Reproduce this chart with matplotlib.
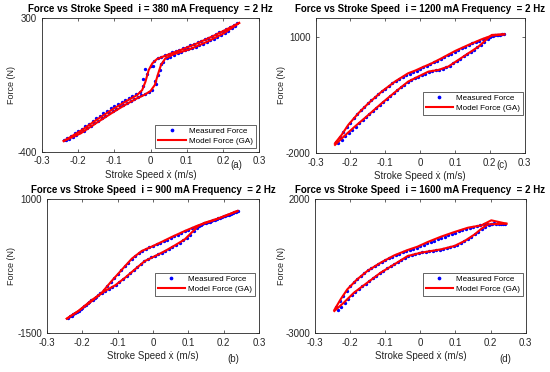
import matplotlib
matplotlib.use("Agg")
import matplotlib.pyplot as plt

plt.rcParams['font.family'] = ['Liberation Sans', 'DejaVu Sans']
plt.rcParams['axes.unicode_minus'] = False

# eixo x comum aos quatro paineis
x_ticks = [-0.3, -0.2, -0.1, 0, 0.1, 0.2, 0.3]
x_tick_labels = ['-0.3', '-0.2', '-0.1', '0', '0.1', '0.2', '0.3']

currents = [380, 1200, 900, 1600]          # mA
panel_tags = ['(a)', '(c)', '(b)', '(d)']
y_limits = [(-400, 300), (-2000, 1500), (-1500, 1000), (-3000, 2000)]
y_ticks = [[-400, 300], [-2000, 1000], [-1500, 1000], [-3000, 2000]]

# velocidades dos pontos medidos (ramo de cima / ramo de baixo)
up_speed = [-0.24, -0.23, -0.22, -0.21, -0.20, -0.19, -0.18, -0.17, -0.16, -0.15, -0.14,
            -0.13, -0.12, -0.11, -0.10, -0.09, -0.08, -0.07, -0.06, -0.05, -0.04, -0.03,
            -0.02, -0.01, 0.0, 0.01, 0.02, 0.03, 0.04, 0.05, 0.06, 0.07, 0.08, 0.09, 0.10,
            0.11, 0.12, 0.13, 0.14, 0.15, 0.16, 0.17, 0.18, 0.19, 0.20, 0.21, 0.22, 0.23, 0.24]
lo_speed = [-0.235, -0.225, -0.215, -0.205, -0.195, -0.185, -0.175, -0.165, -0.155, -0.145,
            -0.135, -0.125, -0.115, -0.105, -0.095, -0.085, -0.075, -0.065, -0.055, -0.045,
            -0.035, -0.025, -0.015, -0.005, 0.005, 0.015, 0.025, 0.035, 0.045, 0.055, 0.065,
            0.075, 0.085, 0.095, 0.105, 0.115, 0.125, 0.135, 0.145, 0.155, 0.165, 0.175,
            0.185, 0.195, 0.205, 0.215, 0.225, 0.235]

# ---- (a) i = 380 mA ----
a_up_x = [-0.24, -0.193, -0.147, -0.101, -0.064, -0.037, -0.023, -0.014, -0.005, 0.005,
          0.018, 0.046, 0.083, 0.129, 0.175, 0.212, 0.245]
a_up_f = [-345, -292, -231, -174, -133, -104, -78, -34, 27, 62, 85, 106, 132, 167, 207, 242, 274]
a_lo_x = [-0.24, -0.193, -0.147, -0.101, -0.064, -0.037, -0.018, 0.0, 0.012, 0.020, 0.029,
          0.041, 0.064, 0.110, 0.157, 0.203, 0.245]
a_lo_f = [-345, -305, -247, -191, -149, -121, -104, -83, -51, 1, 54, 88, 110, 137, 176, 220, 274]
a_meas_up = [-340, -328, -318, -305, -292, -280, -266, -254, -240, -226, -213, -200, -188,
             -174, -162, -150, -140, -128, -120, -110, -98, -88, -55, 5, 48, 72, 88, 95, 104,
             112, 120, 126, 134, 142, 150, 156, 164, 172, 180, 188, 196, 205, 214, 224, 234,
             244, 254, 264, 274]
a_meas_lo = [-342, -334, -322, -312, -300, -290, -276, -264, -250, -238, -225, -212, -200,
             -188, -176, -164, -154, -144, -134, -124, -114, -104, -96, -88, -76, -45, 25,
             70, 88, 98, 108, 116, 122, 130, 136, 144, 150, 158, 166, 174, 184, 192, 202,
             212, 222, 234, 246, 260]
a_extra_x = [-0.02, -0.015, 0.008, 0.012, 0.03, 0.022]
a_extra_f = [-20, 30, 50, -30, 60, 0]

# ---- (c) i = 1200 mA ----
c_up_x = [-0.244, -0.225, -0.206, -0.177, -0.148, -0.110, -0.072, -0.034, -0.014, 0.005,
          0.034, 0.062, 0.101, 0.139, 0.177, 0.206, 0.242]
c_up_f = [-1753, -1537, -1278, -975, -715, -412, -152, 64, 133, 211, 324, 454, 644, 800,
          947, 1042, 1077]
c_lo_x = [-0.244, -0.216, -0.187, -0.148, -0.110, -0.072, -0.034, -0.005, 0.024, 0.053,
          0.081, 0.110, 0.139, 0.168, 0.187, 0.206, 0.242]
c_lo_f = [-1797, -1555, -1321, -1018, -715, -429, -152, -22, 107, 151, 237, 410, 584, 757,
          912, 1060, 1077]
c_meas_up = [-1710, -1590, -1470, -1340, -1220, -1110, -1000, -900, -810, -720, -640, -560,
             -480, -405, -335, -265, -200, -140, -85, -35, 10, 55, 95, 135, 180, 220, 260,
             300, 345, 390, 440, 485, 530, 575, 620, 665, 710, 755, 800, 840, 880, 915, 950,
             985, 1015, 1040, 1055, 1065, 1075]
c_meas_lo = [-1740, -1660, -1570, -1490, -1400, -1320, -1240, -1160, -1080, -1000, -920,
             -840, -760, -680, -605, -530, -455, -380, -305, -235, -165, -110, -65, -25, 15,
             55, 95, 120, 138, 155, 180, 215, 260, 320, 380, 440, 500, 560, 620, 680, 740,
             810, 880, 960, 1030, 1060, 1070, 1075]

# ---- (b) i = 900 mA ----
b_up_x = [-0.244, -0.211, -0.173, -0.145, -0.117, -0.089, -0.060, -0.032, -0.004, 0.024,
          0.053, 0.090, 0.128, 0.166, 0.203, 0.239]
b_up_f = [-1237, -1093, -906, -750, -531, -325, -113, 31, 112, 200, 294, 406, 512, 593, 687, 781]
b_lo_x = [-0.244, -0.211, -0.173, -0.136, -0.107, -0.079, -0.051, -0.023, 0.006, 0.034,
          0.062, 0.090, 0.109, 0.128, 0.147, 0.185, 0.239]
b_lo_f = [-1237, -1093, -887, -718, -612, -469, -312, -156, -63, 31, 137, 250, 375, 500,
          562, 640, 781]
b_meas_up = [-1220, -1180, -1130, -1085, -1035, -985, -930, -880, -825, -765, -700, -625,
             -550, -480, -405, -330, -255, -185, -115, -55, -5, 40, 75, 100, 125, 155, 185,
             215, 245, 280, 310, 340, 370, 400, 430, 455, 480, 505, 530, 555, 580, 605, 630,
             655, 680, 705, 730, 755, 775]
b_meas_lo = [-1195, -1150, -1105, -1060, -1000, -945, -890, -845, -800, -760, -720, -685,
             -645, -600, -545, -495, -445, -390, -330, -275, -220, -165, -120, -90, -65, -30,
             0, 35, 75, 110, 150, 190, 230, 280, 340, 400, 460, 520, 555, 575, 600, 620, 645,
             665, 690, 715, 740, 765]

# ---- (d) i = 1600 mA ----
d_up_x = [-0.245, -0.227, -0.208, -0.180, -0.151, -0.113, -0.074, -0.036, -0.008, 0.021,
          0.059, 0.097, 0.136, 0.174, 0.202, 0.245]
d_up_f = [-2149, -1749, -1374, -1000, -687, -375, -100, 100, 225, 400, 600, 774, 937, 1024,
          1212, 1087]
d_lo_x = [-0.245, -0.218, -0.189, -0.151, -0.113, -0.074, -0.036, 0.002, 0.031, 0.059,
          0.097, 0.126, 0.155, 0.174, 0.193, 0.245]
d_lo_f = [-2187, -1874, -1499, -1125, -750, -437, -125, 0, 62, 125, 250, 437, 687, 899,
          1062, 1087]
d_meas_up = [-2050, -1830, -1620, -1420, -1250, -1110, -980, -870, -760, -660, -570, -490,
             -410, -340, -270, -205, -145, -90, -40, 10, 55, 100, 145, 190, 240, 290, 345,
             400, 455, 505, 555, 605, 655, 705, 750, 800, 845, 890, 935, 975, 1010, 1040,
             1065, 1080, 1090, 1095, 1095, 1092, 1090]
d_meas_lo = [-2150, -2020, -1880, -1740, -1600, -1470, -1360, -1260, -1160, -1060, -965,
             -870, -775, -680, -590, -505, -425, -345, -265, -190, -120, -70, -35, -10, 10,
             30, 50, 70, 90, 110, 140, 170, 205, 245, 300, 365, 430, 510, 600, 690, 790,
             890, 975, 1040, 1075, 1085, 1088, 1090]

panels = [
    (a_up_x, a_up_f, a_lo_x, a_lo_f, a_meas_up, a_meas_lo),
    (c_up_x, c_up_f, c_lo_x, c_lo_f, c_meas_up, c_meas_lo),
    (b_up_x, b_up_f, b_lo_x, b_lo_f, b_meas_up, b_meas_lo),
    (d_up_x, d_up_f, d_lo_x, d_lo_f, d_meas_up, d_meas_lo),
]

# posicoes (pixels: esquerda, topo, direita, base) numa figura 550x372
W, H = 550, 372
boxes = [(42, 18, 259, 151.5), (315.5, 18, 524.5, 152.7),
         (47, 199.3, 259, 332.7), (315, 199.3, 525.7, 332.7)]
legend_anchor = [(0.985, 0.027), (0.993, 0.28), (0.981, 0.275), (0.987, 0.275)]
tag_pos = [(236, 165), (502, 165), (233, 359), (505, 359)]
ylabel_x = [11, 281, 11, 281]

fig = plt.figure(figsize=(W / 100, H / 100), dpi=100)

for k in range(4):
    l, t, r, b = boxes[k]
    ax = fig.add_axes([l / W, 1 - b / H, (r - l) / W, (b - t) / H])
    up_x, up_f, lo_x, lo_f, m_up, m_lo = panels[k]

    ax.plot(up_speed + lo_speed, m_up + m_lo, '.', color='#0000ff', markersize=2.8,
            label='Measured Force')
    if k == 0:
        ax.plot(a_extra_x, a_extra_f, '.', color='#0000ff', markersize=2.8)
    ax.plot(up_x, up_f, '-', color='#ff0000', lw=1.5, label='Model Force (GA)')
    ax.plot(lo_x, lo_f, '-', color='#ff0000', lw=1.5)

    ax.set_xlim(-0.3, 0.3)
    ax.set_ylim(*y_limits[k])
    ax.set_xticks(x_ticks)
    ax.set_xticklabels(x_tick_labels)
    ax.set_yticks(y_ticks[k])
    ax.set_yticklabels([str(v) for v in y_ticks[k]])
    ax.tick_params(direction='in', length=2.5, width=0.5, labelsize=7, pad=3.5,
                   top=True, right=True, colors='#262626')
    for s in ax.spines.values():
        s.set_linewidth(0.6)
        s.set_color('#262626')

    ax.set_title('Force vs Stroke Speed  i = %d mA Frequency  = 2 Hz' % currents[k],
                 fontsize=7, fontweight='bold', pad=4.5)
    ax.set_xlabel('Stroke Speed ẋ (m/s)', fontsize=7, color='#262626', labelpad=2.5)
    ax.set_ylabel('Force (N)', fontsize=6.5, color='#262626', ha='center', va='center')
    ax.yaxis.set_label_coords((ylabel_x[k] - l) / (r - l), 0.5)

    leg = ax.legend(loc='lower right', bbox_to_anchor=legend_anchor[k], borderaxespad=0,
                    fontsize=5.8, fancybox=False, framealpha=1, edgecolor='#262626',
                    handlelength=3.4, handletextpad=0.4, borderpad=0.35, labelspacing=0.3,
                    markerscale=1.2)
    leg.get_frame().set_linewidth(0.5)

    tx, ty = tag_pos[k]
    fig.text(tx / W, 1 - ty / H, panel_tags[k], fontsize=7, ha='center', va='center',
             color='#262626')

fig.savefig('out.png', dpi=100)
